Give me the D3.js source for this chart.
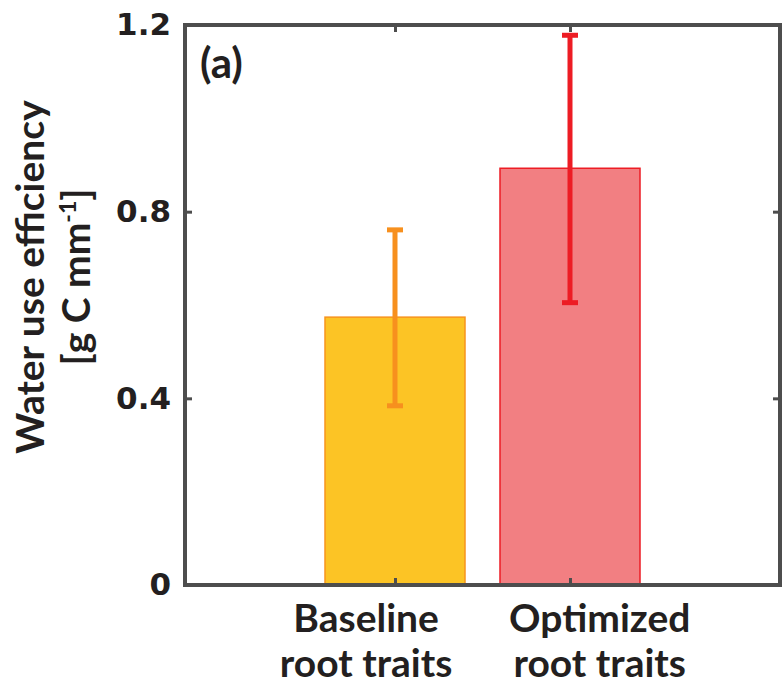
<!DOCTYPE html>
<html>
<head>
<meta charset="utf-8">
<script src="https://cdn.jsdelivr.net/npm/d3@7"></script>
<style>
  html, body { margin: 0; padding: 0; background: #fff; }
  svg { display: block; }
</style>
</head>
<body>
<svg id="chart" width="782" height="688"></svg>
<script>
// Water use efficiency for two root-trait scenarios
const categories = ["Baseline root traits", "Optimized root traits"];
const categoryLines = [["Baseline", "root traits"], ["Optimized", "root traits"]];
const wueMean = [0.574, 0.893];
const wueLow = [0.384, 0.605];
const wueHigh = [0.761, 1.178];
const yTicks = [0, 0.4, 0.8, 1.2];
const yTickLabels = ["0", "0.4", "0.8", "1.2"];
const barFill = ["#FCC425", "#F27F82"];
const barStroke = ["#F7941D", "#ED1C24"];
const errColor = ["#F7901E", "#ED1C24"];

const svg = d3.select("#chart");
const plot = { left: 185, right: 780, top: 25, bottom: 585 };
const axisColor = "#4D4D4D";
const textColor = "#231F20";

// Numeric category positions 1, 2 on a padded linear axis
const x = d3.scaleLinear().domain([-0.2, 3.2]).range([plot.left, plot.right]);
const y = d3.scaleLinear().domain([0, 1.2]).range([plot.bottom, plot.top]);
const barWidth = 0.8;
const pos = categories.map((c, i) => i + 1);
// Category labels are spread slightly outward from their bars
const labelShift = [-0.165, 0.17];

// Bars
svg.append("g").selectAll("rect")
  .data(categories)
  .join("rect")
  .attr("x", (d, i) => x(pos[i] - barWidth / 2))
  .attr("width", (d, i) => x(pos[i] + barWidth / 2) - x(pos[i] - barWidth / 2))
  .attr("y", (d, i) => y(wueMean[i]))
  .attr("height", (d, i) => y(0) - y(wueMean[i]))
  .attr("fill", (d, i) => barFill[i])
  .attr("stroke", (d, i) => barStroke[i])
  .attr("stroke-width", 1.5);

// Error bars
const capHalf = 8;
const eg = svg.append("g");
categories.forEach((c, i) => {
  const cx = x(pos[i]);
  eg.append("line")
    .attr("x1", cx).attr("x2", cx)
    .attr("y1", y(wueLow[i])).attr("y2", y(wueHigh[i]))
    .attr("stroke", errColor[i]).attr("stroke-width", 5);
  [wueLow[i], wueHigh[i]].forEach(v => {
    eg.append("line")
      .attr("x1", cx - capHalf).attr("x2", cx + capHalf)
      .attr("y1", y(v)).attr("y2", y(v))
      .attr("stroke", errColor[i]).attr("stroke-width", 5);
  });
});

// Axes: ticks inward on all four sides
const tickLen = 7;
const leftAxis = d3.axisLeft(y).tickValues(yTicks).tickFormat((d, i) => yTickLabels[i])
  .tickSizeInner(-tickLen).tickSizeOuter(0).tickPadding(14);
const rightAxis = d3.axisRight(y).tickValues(yTicks).tickFormat("")
  .tickSizeInner(-tickLen).tickSizeOuter(0);
const bottomAxis = d3.axisBottom(x).tickValues(pos).tickFormat("")
  .tickSizeInner(-tickLen).tickSizeOuter(0);
const topAxis = d3.axisTop(x).tickValues(pos).tickFormat("")
  .tickSizeInner(-tickLen).tickSizeOuter(0);

function styleAxis(g) {
  g.select(".domain").remove();
  g.selectAll(".tick line").attr("stroke", axisColor).attr("stroke-width", 3);
}

svg.append("g").attr("transform", `translate(${plot.left},0)`).call(leftAxis).call(styleAxis)
  .selectAll("text")
  .attr("font-family", "DejaVu Sans")
  .attr("font-weight", "bold")
  .attr("font-size", 31)
  .attr("fill", textColor);
svg.append("g").attr("transform", `translate(${plot.right},0)`).call(rightAxis).call(styleAxis);
svg.append("g").attr("transform", `translate(0,${plot.bottom})`).call(bottomAxis).call(styleAxis);
svg.append("g").attr("transform", `translate(0,${plot.top})`).call(topAxis).call(styleAxis);

// Frame
svg.append("rect")
  .attr("x", plot.left).attr("y", plot.top)
  .attr("width", plot.right - plot.left).attr("height", plot.bottom - plot.top)
  .attr("fill", "none").attr("stroke", axisColor).attr("stroke-width", 4);

// Category labels
const labelFont = 39;
const catG = svg.append("g");
categoryLines.forEach((lines, i) => {
  const lx = x(pos[i] + labelShift[i]);
  const t = catG.append("text")
    .attr("x", lx)
    .attr("y", 632)
    .attr("text-anchor", "middle")
    .attr("font-family", "Lato")
    .attr("font-weight", "bold")
    .attr("font-size", labelFont)
    .attr("fill", textColor);
  lines.forEach((ln, j) => {
    t.append("tspan").attr("x", lx).attr("dy", j === 0 ? 0 : 45).text(ln);
  });
});

// Y-axis title
const yTitle = svg.append("text")
  .attr("transform", "translate(44,277) rotate(-90)")
  .attr("text-anchor", "middle")
  .attr("font-family", "Lato")
  .attr("font-weight", "bold")
  .attr("font-size", labelFont)
  .attr("fill", textColor);
yTitle.append("tspan").attr("x", 0).attr("y", 0).text("Water use efficiency");
yTitle.append("tspan").attr("x", 0).attr("y", 46).text("[g C mm");
yTitle.append("tspan").attr("dy", -14).attr("font-size", 23).text("-1");
yTitle.append("tspan").attr("dy", 14).text("]");

// Panel label
svg.append("text")
  .attr("x", 200).attr("y", 78)
  .attr("font-family", "Lato")
  .attr("font-weight", "bold")
  .attr("font-size", 42)
  .attr("fill", textColor)
  .text("(a)");
</script>
</body>
</html>
